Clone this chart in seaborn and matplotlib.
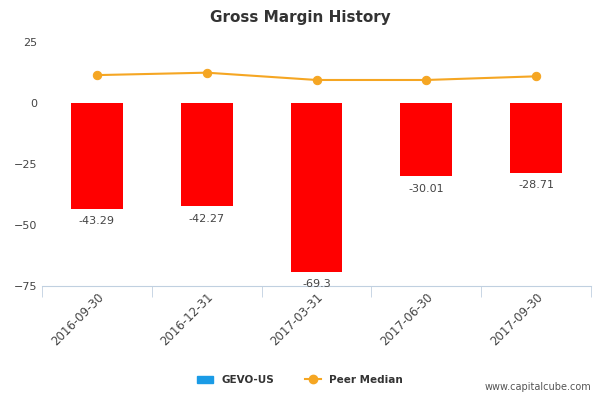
import matplotlib
matplotlib.use("Agg")
import matplotlib.pyplot as plt
import seaborn as sns
import pandas as pd
import numpy as np
from matplotlib.lines import Line2D
from matplotlib.patches import Patch

dates = ["2016-09-30", "2016-12-31", "2017-03-31", "2017-06-30", "2017-09-30"]
gevo = [-43.29, -42.27, -69.3, -30.01, -28.71]
peer = [11.5, 12.5, 9.5, 9.5, 11.0]

df = pd.DataFrame({"date": dates, "gevo": gevo, "peer": peer})

fig = plt.figure(figsize=(6, 4), dpi=100)
ax = fig.add_axes([0.07, 0.285, 0.915, 0.64])
sns.barplot(data=df, x="date", y="gevo", color="#ff0000", width=0.47, saturation=1, ax=ax)
x = np.arange(len(dates))
sns.lineplot(x=x, y=peer, color="#f5a623", lw=1.5, marker="o", markersize=6,
             markeredgecolor="#f5a623", ax=ax)
for i, v in enumerate(gevo):
    ax.text(i, v - 3, f"{v:g}", ha="center", va="top", fontsize=8, color="#444444")

ax.set_ylim(-75, 30)
ax.set_xlim(-0.5, 4.5)
ax.set_yticks([-75, -50, -25, 0, 25])
ax.set_xlabel("")
ax.set_ylabel("")
for s in ["top", "right", "left"]:
    ax.spines[s].set_visible(False)
ax.spines["bottom"].set_position(("data", -75))
ax.spines["bottom"].set_color("#c0d0e0")
ax.set_xticks(np.arange(-0.5, 5, 1), minor=True)
ax.tick_params(axis="x", which="minor", length=8, color="#c0d0e0")
ax.tick_params(axis="x", which="major", length=0, labelsize=8.5, colors="#444444", labelrotation=45)
for lab in ax.get_xticklabels():
    lab.set_ha("right"); lab.set_rotation_mode("anchor")
ax.tick_params(axis="y", length=0, labelsize=8, colors="#444444")

fig.suptitle("Gross Margin History", x=0.5, y=0.975, fontsize=11, fontweight="bold", color="#333333")
handles = [Patch(color="#1a9be6", label="GEVO-US"),
           Line2D([0], [0], color="#f5a623", marker="o", lw=1.5, label="Peer Median")]
leg = fig.legend(handles=handles, loc="center", bbox_to_anchor=(0.5, 0.05), ncol=2, frameon=False,
                 prop={"size": 7.5, "weight": "bold"}, handlelength=1.5, columnspacing=3)
for t in leg.get_texts():
    t.set_color("#333333")
fig.text(0.985, 0.02, "www.capitalcube.com", ha="right", va="bottom", fontsize=7, color="#555555")
fig.savefig("out.png", dpi=100)
